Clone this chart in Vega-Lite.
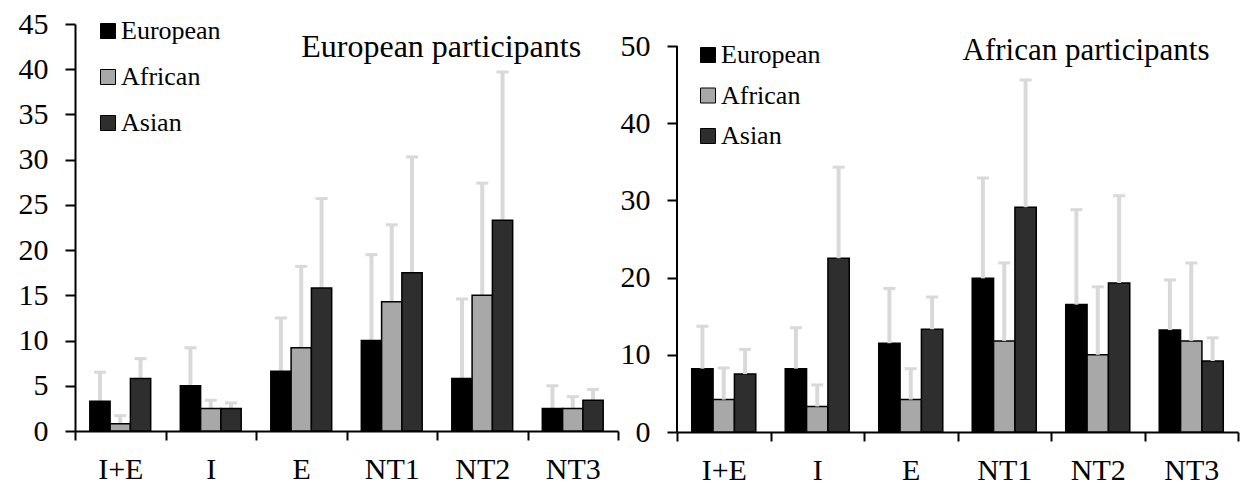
{
  "$schema": "https://vega.github.io/schema/vega-lite/v6.json",
  "background": "white",
  "padding": {"left": 18, "top": 9, "right": 14, "bottom": 0},
  "spacing": 1,
  "config": {
    "font": "Liberation Serif",
    "view": {"stroke": null},
    "axis": {"domainColor": "black", "domainWidth": 2, "tickColor": "black", "tickWidth": 2, "labelColor": "black", "labelFont": "Liberation Serif", "labelFontSize": 30, "grid": false, "title": null},
    "axisY": {"tickSize": 10, "labelPadding": 17},
    "axisX": {"tickSize": 9, "labelPadding": 14, "tickBand": "extent", "labelAngle": 0},
    "legend": {"orient": "none", "title": null, "symbolType": "square", "symbolSize": 225, "symbolStrokeColor": "black", "symbolStrokeWidth": 1, "labelFont": "Liberation Serif", "labelFontSize": 26, "labelColor": "black", "labelOffset": 0, "padding": 0}
  },
  "datasets": {
    "eu": [
      {"task": "I+E", "group": "European", "mean": 3.3, "upper": 6.5},
      {"task": "I+E", "group": "African", "mean": 0.8, "upper": 1.7},
      {"task": "I+E", "group": "Asian", "mean": 5.8, "upper": 8.0},
      {"task": "I", "group": "European", "mean": 5.0, "upper": 9.2},
      {"task": "I", "group": "African", "mean": 2.5, "upper": 3.4},
      {"task": "I", "group": "Asian", "mean": 2.5, "upper": 3.1},
      {"task": "E", "group": "European", "mean": 6.6, "upper": 12.5},
      {"task": "E", "group": "African", "mean": 9.2, "upper": 18.2},
      {"task": "E", "group": "Asian", "mean": 15.8, "upper": 25.7},
      {"task": "NT1", "group": "European", "mean": 10.0, "upper": 19.5},
      {"task": "NT1", "group": "African", "mean": 14.3, "upper": 22.8},
      {"task": "NT1", "group": "Asian", "mean": 17.5, "upper": 30.3},
      {"task": "NT2", "group": "European", "mean": 5.8, "upper": 14.6},
      {"task": "NT2", "group": "African", "mean": 15.0, "upper": 27.4},
      {"task": "NT2", "group": "Asian", "mean": 23.3, "upper": 39.7},
      {"task": "NT3", "group": "European", "mean": 2.5, "upper": 5.0},
      {"task": "NT3", "group": "African", "mean": 2.5, "upper": 3.8},
      {"task": "NT3", "group": "Asian", "mean": 3.4, "upper": 4.6}
    ],
    "af": [
      {"task": "I+E", "group": "European", "mean": 8.2, "upper": 13.7},
      {"task": "I+E", "group": "African", "mean": 4.2, "upper": 8.3},
      {"task": "I+E", "group": "Asian", "mean": 7.5, "upper": 10.7},
      {"task": "I", "group": "European", "mean": 8.2, "upper": 13.5},
      {"task": "I", "group": "African", "mean": 3.3, "upper": 6.1},
      {"task": "I", "group": "Asian", "mean": 22.5, "upper": 34.3},
      {"task": "E", "group": "European", "mean": 11.5, "upper": 18.6},
      {"task": "E", "group": "African", "mean": 4.2, "upper": 8.2},
      {"task": "E", "group": "Asian", "mean": 13.3, "upper": 17.5},
      {"task": "NT1", "group": "European", "mean": 19.9, "upper": 32.9},
      {"task": "NT1", "group": "African", "mean": 11.8, "upper": 21.9},
      {"task": "NT1", "group": "Asian", "mean": 29.1, "upper": 45.6},
      {"task": "NT2", "group": "European", "mean": 16.5, "upper": 28.8},
      {"task": "NT2", "group": "African", "mean": 10.0, "upper": 18.8},
      {"task": "NT2", "group": "Asian", "mean": 19.3, "upper": 30.6},
      {"task": "NT3", "group": "European", "mean": 13.2, "upper": 19.7},
      {"task": "NT3", "group": "African", "mean": 11.8, "upper": 21.9},
      {"task": "NT3", "group": "Asian", "mean": 9.2, "upper": 12.2}
    ]
  },
  "resolve": {
    "scale": {"x": "independent", "y": "independent", "xOffset": "independent", "fill": "independent"},
    "legend": {"fill": "independent"}
  },
  "hconcat": [
    {
      "width": 543,
      "height": 407,
      "data": {"name": "eu"},
      "encoding": {
        "x": {"field": "task", "type": "nominal", "sort": ["I+E", "I", "E", "NT1", "NT2", "NT3"], "scale": {"paddingInner": 0, "paddingOuter": 0}}
      },
      "layer": [
        {
          "mark": {"type": "rule", "color": "#d9d9d9", "strokeWidth": 4},
          "encoding": {
            "xOffset": {"field": "group", "type": "nominal", "sort": ["European", "African", "Asian"], "scale": {"paddingInner": 0, "paddingOuter": 0.73}},
            "y": {"field": "mean", "type": "quantitative", "scale": {"domain": [0, 45], "nice": false}, "axis": {"values": [0, 5, 10, 15, 20, 25, 30, 35, 40, 45]}},
            "y2": {"field": "upper"}
          }
        },
        {
          "mark": {"type": "tick", "color": "#d9d9d9", "thickness": 3, "size": 12, "opacity": 1},
          "encoding": {
            "xOffset": {"field": "group", "type": "nominal", "sort": ["European", "African", "Asian"]},
            "y": {"field": "upper", "type": "quantitative"}
          }
        },
        {
          "mark": {"type": "bar", "stroke": "black", "strokeWidth": 1.5},
          "encoding": {
            "xOffset": {"field": "group", "type": "nominal", "sort": ["European", "African", "Asian"]},
            "y": {"field": "mean", "type": "quantitative"},
            "fill": {"field": "group", "type": "nominal", "sort": ["European", "African", "Asian"], "scale": {"domain": ["European", "African", "Asian"], "range": ["#000000", "#a8a8a8", "#2e2e2e"]}, "legend": {"legendX": 20, "legendY": -6, "rowPadding": 20}}
          }
        },
        {
          "data": {"values": [{}]},
          "mark": {"type": "text", "text": "European participants", "font": "Liberation Serif", "fontSize": 32, "align": "left", "baseline": "alphabetic", "color": "black", "dx": 0},
          "encoding": {
            "x": {"datum": "E", "type": "nominal"},
            "y": {"datum": 41.4, "type": "quantitative"}
          }
        }
      ]
    },
    {
      "width": 561,
      "height": 408,
      "data": {"name": "af"},
      "encoding": {
        "x": {"field": "task", "type": "nominal", "sort": ["I+E", "I", "E", "NT1", "NT2", "NT3"], "scale": {"paddingInner": 0, "paddingOuter": 0}}
      },
      "layer": [
        {
          "mark": {"type": "bar", "stroke": "black", "strokeWidth": 1.5},
          "encoding": {
            "xOffset": {"field": "group", "type": "nominal", "sort": ["European", "African", "Asian"], "scale": {"paddingInner": 0, "paddingOuter": 0.69}},
            "y": {"field": "mean", "type": "quantitative", "scale": {"domain": [0, 52.85], "nice": false}, "axis": {"values": [0, 10, 20, 30, 40, 50], "domain": false}},
            "fill": {"field": "group", "type": "nominal", "sort": ["European", "African", "Asian"], "scale": {"domain": ["European", "African", "Asian"], "range": ["#000000", "#a8a8a8", "#2e2e2e"]}, "legend": {"legendX": 18, "legendY": 18, "rowPadding": 14.5}}
          }
        },
        {
          "mark": {"type": "rule", "color": "#d9d9d9", "strokeWidth": 4},
          "encoding": {
            "xOffset": {"field": "group", "type": "nominal", "sort": ["European", "African", "Asian"]},
            "y": {"field": "mean", "type": "quantitative"},
            "y2": {"field": "upper"}
          }
        },
        {
          "mark": {"type": "tick", "color": "#d9d9d9", "thickness": 3, "size": 12, "opacity": 1},
          "encoding": {
            "xOffset": {"field": "group", "type": "nominal", "sort": ["European", "African", "Asian"]},
            "y": {"field": "upper", "type": "quantitative"}
          }
        },
        {
          "data": {"values": [{}]},
          "mark": {"type": "rule", "color": "black", "strokeWidth": 2},
          "encoding": {
            "x": {"datum": "I+E", "type": "nominal", "bandPosition": 0},
            "y": {"datum": 0, "type": "quantitative"},
            "y2": {"datum": 50}
          }
        },
        {
          "data": {"values": [{}]},
          "mark": {"type": "text", "text": "African participants", "font": "Liberation Serif", "fontSize": 31, "align": "left", "baseline": "alphabetic", "color": "black", "dx": 5},
          "encoding": {
            "x": {"datum": "NT1", "type": "nominal", "bandPosition": 0},
            "y": {"datum": 48.2, "type": "quantitative"}
          }
        }
      ]
    }
  ]
}
